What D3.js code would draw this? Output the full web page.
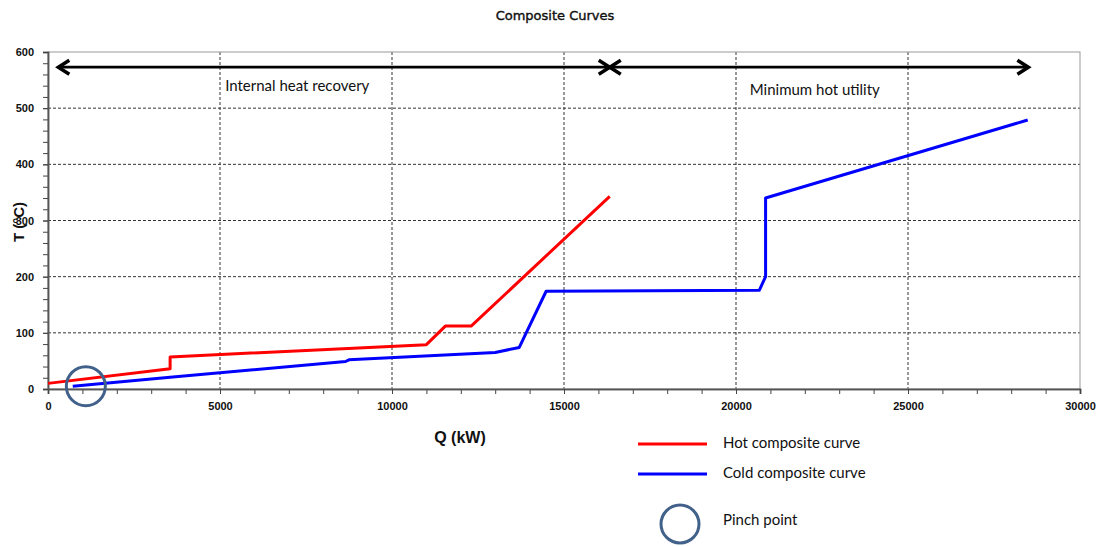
<!DOCTYPE html>
<html>
<head>
<meta charset="utf-8">
<script src="https://cdn.jsdelivr.net/npm/d3@7"></script>
<style>
  html, body { margin: 0; padding: 0; background: #fff; }
  svg { display: block; }
</style>
</head>
<body>
<svg id="chart" width="1100" height="547"></svg>
<script>
// Hot composite curve: heat load Q (kW) vs temperature T (°C)
const hotQ = [0, 3550, 3550, 11000, 11550, 12300, 16330];
const hotT = [10, 36, 57, 79, 112, 112, 343];

// Cold composite curve
const coldQ = [720, 3550, 8650, 8750, 13000, 13700, 14480, 20680, 20860, 20860, 28480];
const coldT = [5, 21, 49, 52, 65, 74, 174, 176, 200, 340, 479];

// Pinch location
const pinchQ = [1100];
const pinchT = [5];

const xTicks = [0, 5000, 10000, 15000, 20000, 25000, 30000];
const yTicks = [0, 100, 200, 300, 400, 500, 600];

// Span annotations along the top of the plot
const spanLabels = ["Internal heat recovery", "Minimum hot utility"];
const spanStart = [300, 16330];
const spanEnd = [16330, 28500];
const spanT = 573;

const legendLabels = ["Hot composite curve", "Cold composite curve", "Pinch point"];

const svg = d3.select("#chart");
const m = { left: 48, right: 1080, top: 52, bottom: 389 };

const x = d3.scaleLinear().domain([0, 30000]).range([m.left, m.right]);
const y = d3.scaleLinear().domain([0, 600]).range([m.bottom, m.top]);

// Title
svg.append("text")
  .attr("x", 555).attr("y", 20)
  .attr("text-anchor", "middle")
  .style("font-family", "'DejaVu Sans', sans-serif")
  .style("font-size", "13px")
  .style("fill", "#111").style("stroke", "#111").style("stroke-width", 0.4)
  .text("Composite Curves");

// Grid lines
const grid = svg.append("g");
grid.selectAll("line.gx").data(xTicks.slice(1, -1)).join("line")
  .attr("x1", d => x(d)).attr("x2", d => x(d))
  .attr("y1", m.top).attr("y2", m.bottom)
  .attr("stroke", "#333").attr("stroke-width", 1).attr("stroke-dasharray", "3,2");
grid.selectAll("line.gy").data(yTicks.slice(1, -1)).join("line")
  .attr("x1", m.left).attr("x2", m.right)
  .attr("y1", d => y(d)).attr("y2", d => y(d))
  .attr("stroke", "#333").attr("stroke-width", 1).attr("stroke-dasharray", "3,2");

// Plot frame
svg.append("rect")
  .attr("x", m.left).attr("y", m.top)
  .attr("width", m.right - m.left).attr("height", m.bottom - m.top)
  .attr("fill", "none").attr("stroke", "#999").attr("stroke-width", 1);

// Axes with minor ticks
const xMinor = d3.axisBottom(x).tickValues(d3.range(0, 30001, 1000)).tickSize(5).tickFormat("");
const yMinor = d3.axisLeft(y).tickValues(d3.range(0, 601, 20)).tickSize(5).tickFormat("");
const xAxis = d3.axisBottom(x).tickValues(xTicks).tickSize(5).tickPadding(8).tickFormat(d3.format("d"));
const yAxis = d3.axisLeft(y).tickValues(yTicks).tickSize(5).tickPadding(9).tickFormat(d3.format("d"));

function styleAxis(g) {
  g.select(".domain").attr("stroke", "#555").attr("stroke-width", 1.5);
  g.selectAll(".tick line").attr("stroke", "#444");
  g.selectAll("text")
    .style("font-family", "Liberation Sans, Arial, sans-serif")
    .style("font-size", "11px").style("font-weight", "bold").attr("fill", "#111");
}
svg.append("g").attr("transform", `translate(0,${m.bottom})`).call(xMinor).call(styleAxis);
svg.append("g").attr("transform", `translate(${m.left},0)`).call(yMinor).call(styleAxis);
svg.append("g").attr("transform", `translate(0,${m.bottom})`).call(xAxis).call(styleAxis);
svg.append("g").attr("transform", `translate(${m.left},0)`).call(yAxis).call(styleAxis);

// Axis titles
svg.append("text")
  .attr("x", 460).attr("y", 443)
  .attr("text-anchor", "middle")
  .style("font-family", "Liberation Sans, Arial, sans-serif")
  .style("font-size", "16px").style("font-weight", "bold").style("fill", "#111")
  .text("Q (kW)");
svg.append("text")
  .attr("transform", "translate(24,222) rotate(-90)")
  .attr("text-anchor", "middle")
  .style("font-family", "Liberation Sans, Arial, sans-serif")
  .style("font-size", "15px").style("font-weight", "bold").style("fill", "#111")
  .text("T (°C)");

// Composite curves
const line = d3.line().x(d => x(d[0])).y(d => y(d[1]));
svg.append("path")
  .datum(hotQ.map((q, i) => [q, hotT[i]]))
  .attr("d", line)
  .attr("fill", "none").attr("stroke", "#ff0000").attr("stroke-width", 3)
  .attr("stroke-linejoin", "round");
svg.append("path")
  .datum(coldQ.map((q, i) => [q, coldT[i]]))
  .attr("d", line)
  .attr("fill", "none").attr("stroke", "#0000ff").attr("stroke-width", 3)
  .attr("stroke-linejoin", "round");

// Pinch marker
const pinchColor = "#41618a";
svg.selectAll("circle.pinch").data(pinchQ).join("circle")
  .attr("cx", (d, i) => x(d)).attr("cy", (d, i) => y(pinchT[i]))
  .attr("r", 19.5)
  .attr("fill", "none").attr("stroke", pinchColor).attr("stroke-width", 3);

// Double arrows marking the two heat-duty spans
function chevron(tipX, tipY, dir) {
  const w = 11, h = 7;
  return `M${tipX + dir * w},${tipY - h} L${tipX},${tipY} L${tipX + dir * w},${tipY + h}`;
}
const arrows = svg.append("g");
spanStart.forEach((s, i) => {
  const x0 = x(s), x1 = x(spanEnd[i]), yy = y(spanT);
  arrows.append("line")
    .attr("x1", x0).attr("x2", x1).attr("y1", yy).attr("y2", yy)
    .attr("stroke", "#000").attr("stroke-width", 2.8);
  arrows.append("path").attr("d", chevron(x0, yy, 1))
    .attr("fill", "none").attr("stroke", "#000").attr("stroke-width", 3.5)
    .attr("stroke-linejoin", "miter");
  arrows.append("path").attr("d", chevron(x1, yy, -1))
    .attr("fill", "none").attr("stroke", "#000").attr("stroke-width", 3.5)
    .attr("stroke-linejoin", "miter");
});

const labelFont = "Lato, 'Open Sans', sans-serif";
svg.append("text")
  .attr("x", x(5150)).attr("y", 91)
  .style("font-family", labelFont).style("font-size", "15px").style("fill", "#111")
  .text(spanLabels[0]);
svg.append("text")
  .attr("x", x(20400)).attr("y", 95)
  .style("font-family", labelFont).style("font-size", "15px").style("fill", "#111")
  .text(spanLabels[1]);

// Legend
const legend = svg.append("g");
const legendColors = ["#ff0000", "#0000ff"];
const legendY = [444, 474];
legendColors.forEach((c, i) => {
  legend.append("line")
    .attr("x1", 638).attr("x2", 707).attr("y1", legendY[i]).attr("y2", legendY[i])
    .attr("stroke", c).attr("stroke-width", 3);
});
legend.append("circle")
  .attr("cx", 680).attr("cy", 524).attr("r", 19)
  .attr("fill", "none").attr("stroke", pinchColor).attr("stroke-width", 3);
[443, 473, 520].forEach((yy, i) => {
  legend.append("text")
    .attr("x", 723).attr("y", yy).attr("dy", "0.35em")
    .style("font-family", labelFont).style("font-size", "15px").style("fill", "#111")
    .text(legendLabels[i]);
});
</script>
</body>
</html>
